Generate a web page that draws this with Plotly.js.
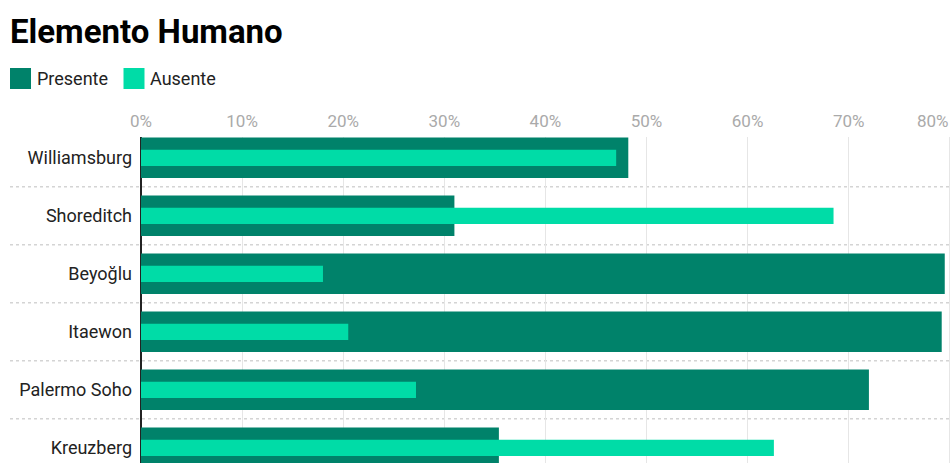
<!DOCTYPE html>
<html>
<head>
<meta charset="utf-8">
<script src="https://cdn.plot.ly/plotly-3.0.1.min.js"></script>
<style>
  html, body { margin: 0; padding: 0; background: #fff; }
  #chart { width: 951px; height: 463px; }
</style>
</head>
<body>
<div id="chart"></div>
<script>
// Neighbourhoods, top to bottom
const categories = ['Williamsburg', 'Shoreditch', 'Beyoğlu', 'Itaewon', 'Palermo Soho', 'Kreuzberg'];
// Share of images with the human element present / absent (%)
const presente = [48.2, 31.0, 79.5, 79.2, 72.0, 35.4];
const ausente  = [47.0, 68.5, 18.0, 20.5, 27.2, 62.6];
const seriesNames = ['Presente', 'Ausente'];
const xTicks = [0, 10, 20, 30, 40, 50, 60, 70, 80];

const COLORS = ['#00826a', '#00dca7'];
const FONT = 'Roboto, "Noto Sans", sans-serif';
const TICK_FONT = { family: FONT, size: 17, color: '#aaaaaa' };

// Plot-area geometry (pixels) used to place the hand-built legend and separators
const W = 951, H = 463;
const M = { l: 141, r: 0, t: 137, b: 0 };
const plotW = W - M.l - M.r, plotH = H - M.t - M.b;
const px2x = px => (px - M.l) / plotW;
const py2y = py => (H - M.b - py) / plotH;

const traces = [
  {
    type: 'bar', orientation: 'h', name: seriesNames[0],
    y: categories, x: presente, width: 0.7,
    marker: { color: COLORS[0], line: { width: 0 } },
    hovertemplate: '%{y}: %{x}%<extra>' + seriesNames[0] + '</extra>'
  },
  {
    type: 'bar', orientation: 'h', name: seriesNames[1],
    y: categories, x: ausente, width: 0.28,
    marker: { color: COLORS[1], line: { width: 0 } },
    hovertemplate: '%{y}: %{x}%<extra>' + seriesNames[1] + '</extra>'
  }
];

// Dotted separators between rows, reaching into the label column
const shapes = [];
for (let i = 0; i < categories.length - 1; i++) {
  shapes.push({
    type: 'line', xref: 'paper', yref: 'y',
    x0: px2x(10), x1: 1, y0: i + 0.5, y1: i + 0.5,
    line: { color: '#d4d4d4', width: 1.5, dash: 'dot' },
    layer: 'below'
  });
}

// Legend: large colour swatches followed by the series name
const annotations = [];
const legendX = [10, 123.5];
seriesNames.forEach((name, i) => {
  const x0 = legendX[i];
  shapes.push({
    type: 'rect', xref: 'paper', yref: 'paper',
    x0: px2x(x0), x1: px2x(x0 + 21), y0: py2y(89), y1: py2y(68),
    fillcolor: COLORS[i], line: { width: 0 }
  });
  annotations.push({
    xref: 'paper', yref: 'paper', x: px2x(x0 + 24.5), y: py2y(78.5),
    xanchor: 'left', yanchor: 'middle', showarrow: false,
    text: name, font: { family: FONT, size: 18, color: '#222' }
  });
});

// The last tick label sits flush with the right edge so it stays inside the chart
const lastTick = xTicks[xTicks.length - 1];
annotations.push({
  xref: 'x', yref: 'paper', x: lastTick, xshift: 1.5, y: py2y(121),
  xanchor: 'right', yanchor: 'middle', showarrow: false,
  text: lastTick + '%', font: TICK_FONT
});

const layout = {
  width: W, height: H,
  margin: M,
  paper_bgcolor: '#fff', plot_bgcolor: '#fff',
  barmode: 'overlay',
  showlegend: false,
  title: {
    text: 'Elemento Humano',
    font: { family: FONT, size: 33, color: '#000', weight: 700 },
    xref: 'container', yref: 'container',
    x: 10 / W, xanchor: 'left',
    y: 1 - 31 / H, yanchor: 'middle'
  },
  xaxis: {
    side: 'top',
    range: [0, plotW / 10.11],
    tickmode: 'array', tickvals: xTicks,
    ticktext: xTicks.map(v => (v === lastTick ? '' : v + '%')),
    ticks: '', showline: false,
    showgrid: true, gridcolor: '#e6e6e6', gridwidth: 1.3,
    zeroline: true, zerolinecolor: '#222', zerolinewidth: 1.5,
    tickfont: TICK_FONT,
    ticklabelstandoff: 6,
    fixedrange: true
  },
  yaxis: {
    type: 'category', categoryorder: 'array', categoryarray: categories,
    range: [5.262, -0.359],
    showgrid: false, zeroline: false, showline: false, ticks: '',
    tickfont: { family: FONT, size: 18, color: '#222', weight: 400 },
    ticklabelstandoff: 8,
    fixedrange: true
  },
  shapes: shapes,
  annotations: annotations
};

Plotly.newPlot('chart', traces, layout, { displayModeBar: false, responsive: false });
</script>
</body>
</html>
